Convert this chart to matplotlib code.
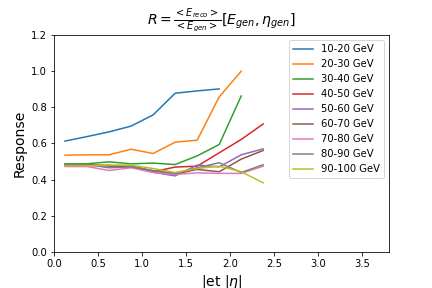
import matplotlib

matplotlib.use("Agg")
import matplotlib.pyplot as plt

# |eta| bin centres
eta = [0.125, 0.375, 0.625, 0.875, 1.125, 1.375, 1.625, 1.875, 2.125, 2.375]

labels = ["10-20 GeV", "20-30 GeV", "30-40 GeV", "40-50 GeV", "50-60 GeV",
          "60-70 GeV", "70-80 GeV", "80-90 GeV", "90-100 GeV"]

r_10_20 = [0.613, 0.638, 0.664, 0.696, 0.758, 0.878, 0.891, 0.902]
r_20_30 = [0.535, 0.537, 0.537, 0.568, 0.544, 0.607, 0.618, 0.858, 1.0]
r_30_40 = [0.487, 0.487, 0.498, 0.487, 0.491, 0.483, 0.531, 0.594, 0.863]
r_40_50 = [0.480, 0.480, 0.478, 0.470, 0.443, 0.469, 0.474, 0.548, 0.622, 0.708]
r_50_60 = [0.480, 0.480, 0.476, 0.472, 0.440, 0.420, 0.480, 0.470, 0.537, 0.570]
r_60_70 = [0.478, 0.478, 0.476, 0.474, 0.448, 0.430, 0.456, 0.443, 0.513, 0.561]
r_70_80 = [0.472, 0.472, 0.450, 0.465, 0.439, 0.428, 0.437, 0.434, 0.434, 0.474]
r_80_90 = [0.483, 0.483, 0.465, 0.470, 0.450, 0.434, 0.465, 0.493, 0.439, 0.482]
r_90_100 = [0.476, 0.476, 0.480, 0.480, 0.461, 0.439, 0.461, 0.474, 0.443, 0.382]

series = [r_10_20, r_20_30, r_30_40, r_40_50, r_50_60,
          r_60_70, r_70_80, r_80_90, r_90_100]

fig = plt.figure(figsize=(6, 4), dpi=72)
ax = fig.add_axes([0.125, 0.126, 0.775, 0.752])

for lab, vals in zip(labels, series):
    ax.plot(eta[:len(vals)], vals, label=lab)

ax.set_xlim(0, 3.8)
ax.set_ylim(0, 1.2)
ax.set_xlabel(r"|et |$\eta$|", fontsize=14)
ax.set_ylabel("Response", fontsize=14)
ax.set_title(r"$R = \frac{<E_{reco}>}{<E_{gen}>}[E_{gen},\eta_{gen}]$",
             fontsize=14)
ax.legend(loc="upper right")

fig.savefig("out.png", dpi=72)
